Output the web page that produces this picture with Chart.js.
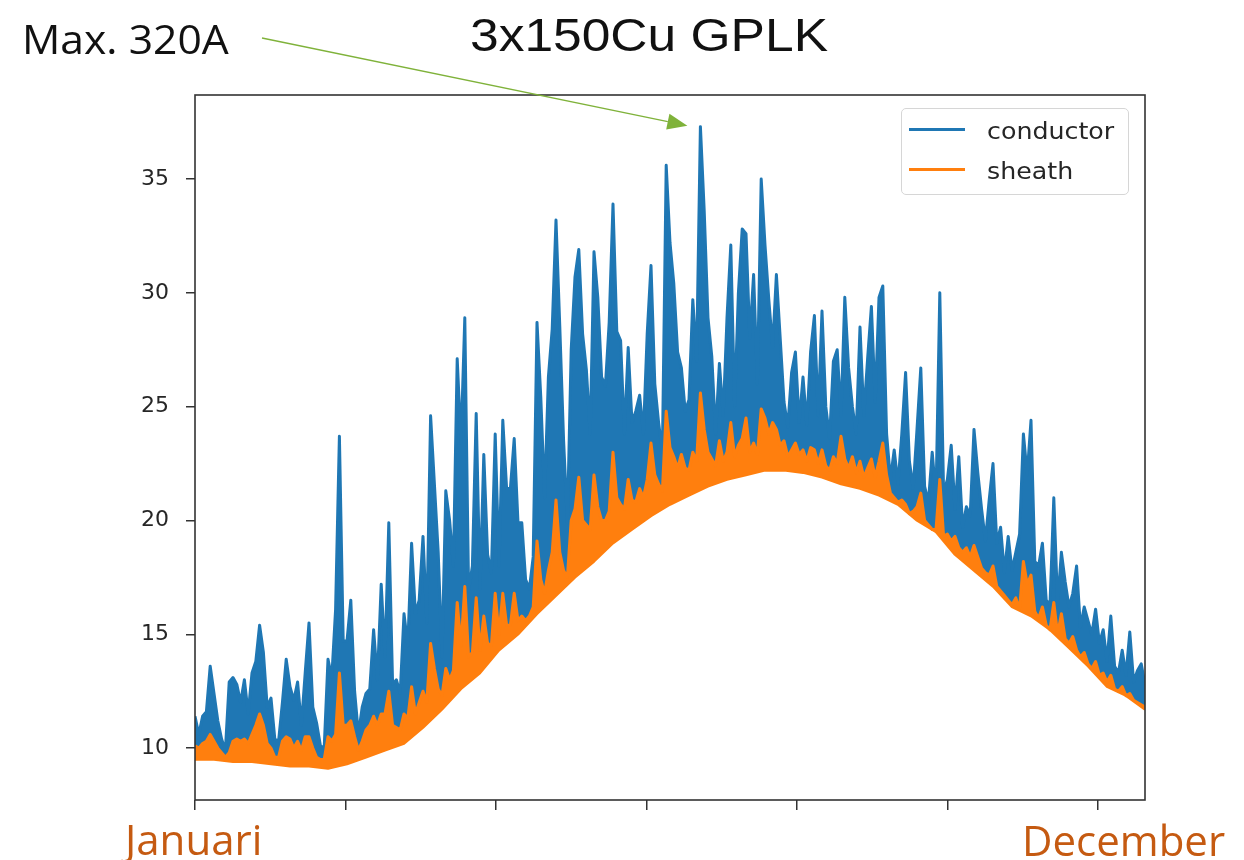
<!DOCTYPE html>
<html>
<head>
<meta charset="utf-8">
<script src="https://cdn.jsdelivr.net/npm/chart.js@4.4.1/dist/chart.umd.min.js"></script>
<style>
  html, body { margin: 0; padding: 0; background: #fff; }
  #wrap { position: relative; width: 1244px; height: 860px; overflow: hidden; background: #fff; }
  #chart { position: absolute; left: 0; top: 0; }
  .txt { position: absolute; white-space: nowrap; line-height: 1; }
  #title { top: 12px; left: 649px; transform: translateX(-50%) scaleX(1.12); font-family: "Liberation Sans", Arial, sans-serif; font-size: 46px; color: #111; }
  #annot { top: 18px; left: 22px; transform-origin: left center; transform: scaleX(1.04); font-family: "Open Sans", sans-serif; font-size: 41px; color: #111; }
  #xStart { top: 818px; left: 125px; font-family: "Open Sans", sans-serif; font-size: 42px; color: #c55a11; }
  #xEnd { top: 819px; left: 1022px; font-family: "Open Sans", sans-serif; font-size: 42px; color: #c55a11; }
  #legend { position: absolute; left: 901px; top: 108px; width: 228px; height: 87px; border: 1px solid #d6d6d6; border-radius: 5px; background: rgba(255,255,255,0.85); box-sizing: border-box; }
  .lg-line { position: absolute; height: 3px; width: 56px; left: 909px; }
  .lg-text { position: absolute; left: 987px; font-family: "DejaVu Sans", sans-serif; font-size: 23px; color: #262626; line-height: 1; transform-origin: left center; transform: scaleX(1.1); white-space: nowrap; }
</style>
</head>
<body>
<div id="wrap">
  <canvas id="chart" width="1244" height="860"></canvas>
  <div id="title" class="txt"></div>
  <div id="annot" class="txt"></div>
  <div id="xStart" class="txt"></div>
  <div id="xEnd" class="txt"></div>
  <div id="legend"></div>
</div>
<script>
// ---------------- data ----------------
const chartTitle = '3x150Cu GPLK';
const annotationText = 'Max. 320A';
const xStartLabel = 'Januari';
const xEndLabel = 'December';

const seriesNames = ['conductor', 'sheath'];
const seriesColors = ['#1f77b4', '#ff7f0e'];

const yTickValues = [10, 15, 20, 25, 30, 35];
const xTickValues = [0, 1, 2, 3, 4, 5, 6];
const xMax = 6.312;

// conductor temperature (upper envelope), evenly spaced over the year
const conductor = [
  11.4, 10.6, 11.4, 11.6, 13.6, 12.4, 11.2, 10.4, 9.9, 12.9,
  13.1, 12.8, 12.0, 13.0, 11.5, 13.3, 13.8, 15.4, 14.2, 11.8,
  12.2, 10.4, 10.3, 12.0, 13.9, 12.7, 12.1, 12.9, 11.0, 13.3,
  15.5, 11.8, 11.1, 10.1, 10.0, 13.9, 13.1, 16.1, 23.7, 14.7,
  14.7, 16.5, 12.5, 10.6, 11.8, 12.4, 12.6, 15.2, 13.0, 17.2,
  14.0, 19.9, 12.8, 13.0, 12.4, 15.9, 14.5, 19.0, 15.9, 16.5,
  19.3, 15.5, 24.6, 21.6, 18.6, 14.0, 21.3, 20.0, 18.0, 27.1,
  23.4, 28.9, 16.9, 18.0, 24.7, 17.0, 22.9, 18.5, 17.7, 23.8,
  18.0, 24.4, 21.4, 21.4, 23.6, 19.9, 19.9, 17.4, 17.0, 18.4,
  28.7, 25.4, 21.0, 26.3, 28.4, 33.2, 28.5, 23.5, 19.9, 27.5,
  30.7, 31.9, 28.2, 26.6, 23.8, 31.8, 29.8, 26.3, 25.9, 28.7,
  33.9, 28.3, 27.9, 23.8, 27.6, 24.3, 24.8, 25.5, 23.8, 28.2,
  31.2, 26.0, 24.3, 23.0, 35.6, 32.2, 30.4, 27.4, 26.7, 24.8,
  25.3, 29.7, 27.0, 37.3, 33.6, 28.9, 27.2, 23.8, 26.9, 24.6,
  28.9, 32.1, 25.0, 30.0, 32.8, 32.6, 28.0, 30.8, 26.0, 35.0,
  32.1, 29.7, 27.6, 30.8, 28.0, 25.2, 24.1, 26.5, 27.4, 24.3,
  26.3, 24.2, 27.4, 29.0, 24.6, 29.2, 25.0, 23.6, 27.0, 27.5,
  24.6, 29.8, 26.7, 25.0, 23.8, 28.5, 24.6, 27.1, 29.4, 25.2,
  29.8, 30.3, 23.8, 21.8, 23.1, 21.6, 23.8, 26.5, 22.6, 21.4,
  24.0, 26.7, 21.5, 20.8, 23.0, 21.0, 30.0, 21.2, 21.8, 23.3,
  20.5, 22.8, 19.7, 20.6, 20.2, 24.0, 22.1, 20.5, 19.1, 20.9,
  22.5, 19.0, 19.7, 17.7, 19.3, 17.8, 18.6, 19.4, 23.8, 22.0,
  24.4, 18.2, 18.0, 19.0, 16.5, 16.3, 21.0, 16.3, 18.6, 17.3,
  16.2, 16.8, 18.0, 15.3, 16.2, 15.6, 15.0, 16.1, 14.6, 15.2,
  13.8, 15.8, 13.6, 13.3, 14.3, 13.2, 15.1, 12.9, 13.4, 13.7,
  12.8
];

// sheath temperature (upper envelope), same spacing as conductor
const sheath = [
  10.1, 10.0, 10.2, 10.3, 10.6, 10.3, 10.0, 9.8, 9.6, 9.8,
  10.3, 10.4, 10.3, 10.4, 10.2, 10.6, 11.0, 11.5, 11.0, 10.2,
  10.0, 9.6, 9.6, 10.3, 10.5, 10.4, 10.0, 10.3, 9.9, 10.5,
  10.5, 10.0, 9.6, 9.5, 9.5, 10.5, 10.3, 10.6, 13.3, 11.0,
  11.0, 11.2, 10.5, 9.9, 10.3, 10.8, 11.0, 11.4, 11.0, 11.5,
  11.5, 12.5, 11.0, 10.9, 10.8, 11.5, 11.3, 12.7, 11.5, 12.0,
  12.5, 12.0, 14.6, 13.5, 12.6, 12.3, 13.5, 13.0, 13.4, 16.4,
  14.5, 17.1, 14.0, 14.2, 16.6, 14.3, 15.8, 14.6, 14.5, 16.8,
  15.0, 16.8, 15.4, 15.4, 16.8, 15.6, 15.8, 15.6, 15.8, 16.2,
  19.1, 17.4, 16.8, 17.8, 18.6, 20.9, 18.6, 17.8, 17.5, 20.0,
  20.5, 21.9, 20.0, 19.8, 19.6, 22.0, 20.6, 20.0, 20.0, 20.4,
  23.0, 21.0, 20.7, 20.5, 21.8, 20.9, 20.8, 21.4, 21.0, 21.8,
  23.4, 22.0, 21.6, 21.3, 24.8, 23.2, 22.8, 22.3, 22.9, 22.3,
  22.2, 23.0, 22.6, 25.6, 24.0, 23.0, 22.7, 22.4, 23.5, 22.6,
  23.0, 24.3, 22.8, 23.3, 23.6, 24.5, 23.0, 23.4, 22.9, 24.9,
  24.5, 23.8, 24.3, 24.0, 23.3, 23.5, 22.8, 23.1, 23.4, 22.9,
  23.1, 22.6, 23.2, 23.1, 22.5, 23.1, 22.4, 22.2, 22.8, 22.5,
  23.7, 22.7, 22.3, 22.8, 22.1, 22.6, 21.9, 22.3, 22.7, 21.9,
  22.6, 23.4, 22.0, 21.2, 21.0, 20.8, 20.9, 20.7, 20.3, 20.4,
  20.6, 21.2, 20.0, 19.8, 19.6, 19.6, 21.8, 19.3, 19.4, 19.1,
  19.3, 18.8, 18.6, 18.8, 18.4, 18.9, 18.4, 17.9, 17.7, 17.6,
  18.0, 17.1, 16.9, 16.7, 16.5, 16.3, 16.6, 16.1, 18.2, 17.2,
  17.6, 16.0, 15.7, 16.2, 15.4, 15.2, 16.4, 15.0, 15.9, 14.8,
  14.6, 14.9, 14.3, 14.0, 14.2, 13.7, 13.5, 13.8, 13.2, 13.3,
  12.9, 13.2, 12.6, 12.5, 12.7, 12.3, 12.4, 12.1, 12.0, 11.9,
  11.8
];

// sheath temperature (lower envelope), coarser spacing
const sheathMin = [
  9.5, 9.5, 9.4, 9.4, 9.3, 9.2, 9.2, 9.1, 9.3, 9.6,
  9.9, 10.2, 10.9, 11.7, 12.6, 13.3, 14.3, 15.0, 15.9, 16.7,
  17.5, 18.2, 19.0, 19.6, 20.2, 20.7, 21.1, 21.5, 21.8, 22.0,
  22.2, 22.2, 22.1, 21.9, 21.6, 21.4, 21.1, 20.7, 20.0, 19.5,
  18.5, 17.8, 17.1, 16.2, 15.8, 15.2, 14.4, 13.6, 12.7, 12.3,
  11.7
];

// ---------------- helpers ----------------
function toXY(arr) {
  const n = arr.length - 1;
  return arr.map((v, i) => ({ x: i * xMax / n, y: v }));
}

document.getElementById('title').textContent = chartTitle;
document.getElementById('annot').textContent = annotationText;
document.getElementById('xStart').textContent = xStartLabel;
document.getElementById('xEnd').textContent = xEndLabel;

// legend built from the series names/colours
(function buildLegend() {
  const wrap = document.getElementById('wrap');
  const lineTops = [128, 168];
  const textTops = [120, 160];
  seriesNames.forEach((name, i) => {
    const ln = document.createElement('div');
    ln.className = 'lg-line';
    ln.style.top = lineTops[i] + 'px';
    ln.style.background = seriesColors[i];
    wrap.appendChild(ln);
    const tx = document.createElement('div');
    tx.className = 'lg-text';
    tx.style.top = textTops[i] + 'px';
    tx.textContent = name;
    wrap.appendChild(tx);
  });
})();

// frame around the plot area
const framePlugin = {
  id: 'frame',
  afterDatasetsDraw(chart) {
    const { ctx, chartArea: a } = chart;
    ctx.save();
    ctx.strokeStyle = '#333';
    ctx.lineWidth = 1.6;
    ctx.strokeRect(a.left, a.top, a.right - a.left, a.bottom - a.top);
    ctx.restore();
  }
};

// green annotation arrow pointing at the maximum of the conductor series
const arrowPlugin = {
  id: 'arrow',
  afterDraw(chart) {
    const { ctx } = chart;
    const xs = chart.scales.x, ys = chart.scales.y;
    let mi = 0;
    conductor.forEach((v, i) => { if (v > conductor[mi]) mi = i; });
    const px = xs.getPixelForValue(mi * xMax / (conductor.length - 1));
    const py = ys.getPixelForValue(conductor[mi]);
    const tx = px - 13, ty = py - 1;
    const sx = 262, sy = 38;
    const ang = Math.atan2(ty - sy, tx - sx);
    const hl = 20, hw = 8;
    const bx = tx - hl * Math.cos(ang), by = ty - hl * Math.sin(ang);
    ctx.save();
    ctx.strokeStyle = '#7fb23a';
    ctx.fillStyle = '#7fb23a';
    ctx.lineWidth = 1.3;
    ctx.beginPath();
    ctx.moveTo(sx, sy);
    ctx.lineTo(bx, by);
    ctx.stroke();
    ctx.beginPath();
    ctx.moveTo(tx, ty);
    ctx.lineTo(bx + hw * Math.sin(ang), by - hw * Math.cos(ang));
    ctx.lineTo(bx - hw * Math.sin(ang), by + hw * Math.cos(ang));
    ctx.closePath();
    ctx.fill();
    ctx.restore();
  }
};

new Chart(document.getElementById('chart'), {
  type: 'line',
  data: {
    datasets: [
      {
        label: seriesNames[0],
        data: toXY(conductor),
        borderColor: seriesColors[0],
        backgroundColor: seriesColors[0],
        borderWidth: 3,
        borderJoinStyle: 'round',
        pointRadius: 0,
        fill: { target: 1 },
        order: 3
      },
      {
        label: seriesNames[1],
        data: toXY(sheath),
        borderColor: seriesColors[1],
        backgroundColor: seriesColors[1],
        borderWidth: 3,
        borderJoinStyle: 'round',
        pointRadius: 0,
        fill: { target: 2 },
        order: 1
      },
      {
        label: seriesNames[1] + ' min',
        data: toXY(sheathMin),
        borderColor: seriesColors[1],
        backgroundColor: seriesColors[1],
        borderWidth: 2.5,
        borderJoinStyle: 'round',
        pointRadius: 0,
        fill: false,
        order: 2
      }
    ]
  },
  options: {
    responsive: false,
    animation: false,
    events: [],
    layout: { padding: { left: 0, right: 99, top: 95, bottom: 0 } },
    plugins: {
      legend: { display: false },
      tooltip: { enabled: false },
      title: { display: false }
    },
    scales: {
      x: {
        type: 'linear',
        min: 0,
        max: xMax,
        afterBuildTicks(scale) { scale.ticks = xTickValues.map(v => ({ value: v })); },
        afterFit(scale) { scale.height = 60; },
        ticks: { display: false },
        grid: { display: true, drawOnChartArea: false, drawTicks: true, tickLength: 10, color: '#333', lineWidth: 1.5 },
        border: { display: false }
      },
      y: {
        type: 'linear',
        min: 7.72,
        max: 38.69,
        afterBuildTicks(scale) { scale.ticks = yTickValues.map(v => ({ value: v })); },
        afterFit(scale) { scale.width = 195; },
        ticks: {
          font: { family: 'DejaVu Sans', size: 22 },
          color: '#262626',
          padding: 17
        },
        grid: { display: true, drawOnChartArea: false, drawTicks: true, tickLength: 9, color: '#333', lineWidth: 1.5 },
        border: { display: false }
      }
    }
  },
  plugins: [framePlugin, arrowPlugin]
});
</script>
</body>
</html>
